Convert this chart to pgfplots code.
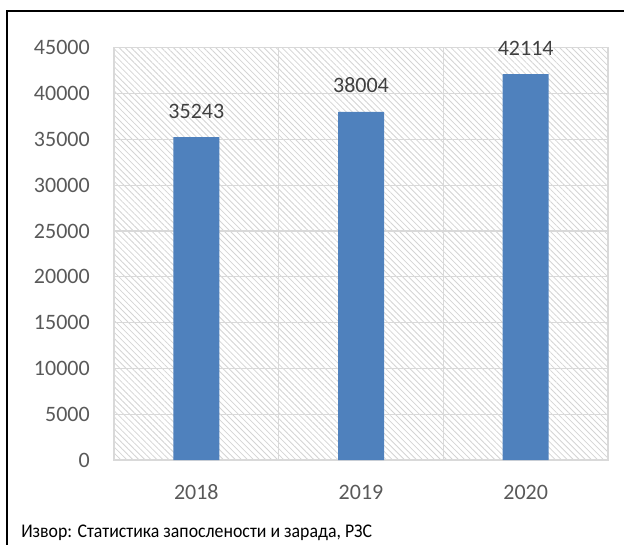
\documentclass[border=0pt]{standalone}
\usepackage{pgfplots}
\pgfplotsset{compat=1.18}
\usepackage{fontspec}
\setmainfont{Carlito}
\usetikzlibrary{patterns.meta}
\definecolor{barblue}{HTML}{4F81BD}
\definecolor{gridc}{HTML}{D9D9D9}
\definecolor{tickc}{HTML}{595959}
\definecolor{labc}{HTML}{404040}
\definecolor{hatchc}{HTML}{D4D4D4}
\begin{document}
\fontsize{16.5}{20}\selectfont
\begin{tikzpicture}
\useasboundingbox (0,0) rectangle (468pt,408pt);
\draw[line width=1.5pt] (5.25pt,-2pt) -- (5.25pt,399.75pt) -- (470pt,399.75pt);
\begin{axis}[
 at={(85.5pt,63pt)}, anchor=south west,
 scale only axis, width=370.5pt, height=309.2pt,
 xmin=-0.5, xmax=2.5, ymin=0, ymax=45000,
 ytick={0,5000,...,45000},
 xtick={0,1,2}, xticklabels={2018,2019,2020},
 minor xtick={0.5,1.5},
 ymajorgrids, xminorgrids,
 grid style={gridc, line width=0.9pt},
 minor grid style={gridc, line width=0.9pt},
 axis line style={gridc, line width=0.9pt},
 major tick length=0pt, minor tick length=0pt,
 tick style={draw=none},
 scaled y ticks=false,
 /pgf/number format/1000 sep={},
 /pgf/number format/assume math mode=true,
 yticklabel style={anchor=east, inner sep=0pt, xshift=-18pt, text=tickc, font=\fontsize{16.5}{20}\selectfont},
 xticklabel style={anchor=north, inner sep=0pt, yshift=-18.4pt, text=tickc, font=\fontsize{16.5}{20}\selectfont},
 axis background/.style={pattern={Lines[angle=-45,distance=3.2pt,line width=0.6pt]}, pattern color=hatchc},
 ybar, bar width=34.5pt,
 nodes near coords,
 nodes near coords style={anchor=south, inner sep=0pt, yshift=14pt, text=labc, font=\fontsize{16.5}{20}\selectfont},
]
\addplot[fill=barblue, draw=none] coordinates {(0,35243) (1,38004) (2,42114)};
\end{axis}
\node[anchor=base west, inner sep=0pt, font=\fontsize{14.5}{17}\selectfont] at (15.75pt,5pt) {\scalebox{0.92}[1]{Извор: Статистика запослености и зарада, РЗС}};
\end{tikzpicture}
\end{document}
